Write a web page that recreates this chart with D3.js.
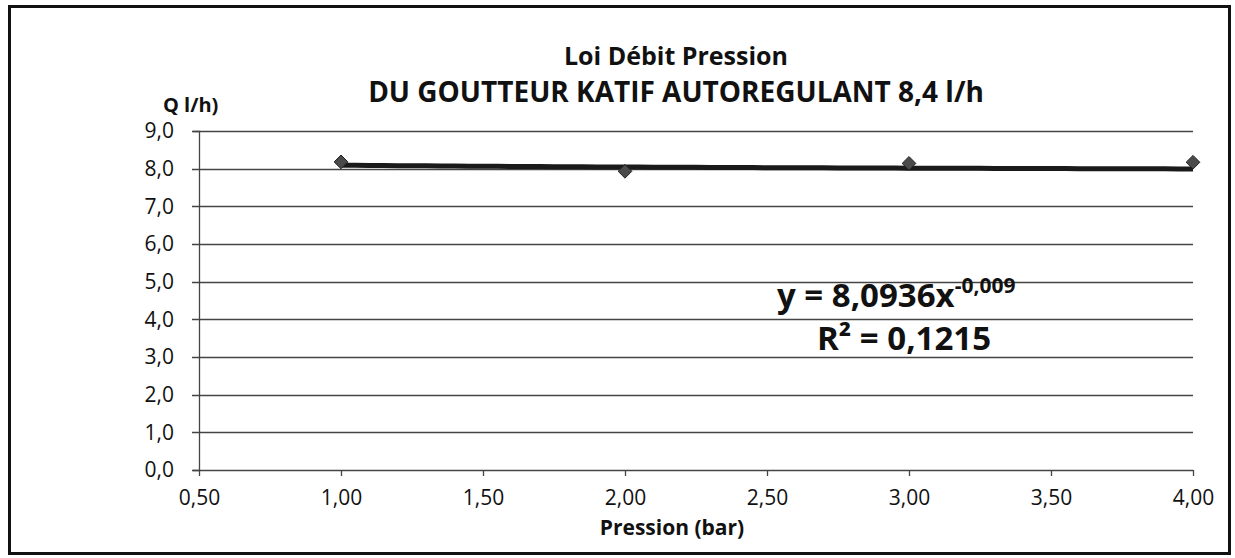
<!DOCTYPE html>
<html>
<head>
<meta charset="utf-8">
<script src="https://cdn.jsdelivr.net/npm/d3@7"></script>
<style>
  body { margin: 0; background: #fff; }
  svg text { font-family: "Open Sans", sans-serif; fill: #111; }
</style>
</head>
<body>
<div class="container"></div>
<script>
(function(){
  // data
  const pressures = [1.00, 2.00, 3.00, 4.00];
  const debits = [8.18, 7.93, 8.14, 8.17];
  const xTicks = [0.5, 1.0, 1.5, 2.0, 2.5, 3.0, 3.5, 4.0];
  const yTicks = [0, 1, 2, 3, 4, 5, 6, 7, 8, 9];
  const trendCoef = [8.0936, -0.009];
  const titleLines = ['Loi Débit Pression', 'DU GOUTTEUR KATIF AUTOREGULANT 8,4 l/h'];

  const config = {w: 1235, h: 558, m: {l: 199, r: 42, t: 131, b: 88}};

  const svg = d3.select('.container').append('svg')
    .attr('width', config.w)
    .attr('height', config.h);

  // outer frame
  svg.append('rect')
    .attr('x', 9.5).attr('y', 6.5)
    .attr('width', 1220).attr('height', 547)
    .attr('fill', 'none')
    .attr('stroke', '#111')
    .attr('stroke-width', 3);

  const x = d3.scaleLinear()
    .domain([0.5, 4])
    .range([config.m.l, config.w - config.m.r]);

  const y = d3.scaleLinear()
    .domain([0, 9])
    .range([config.h - config.m.b, config.m.t]);

  const fmt = d => d.toFixed(2).replace('.', ',');
  const fmtY = d => d.toFixed(1).replace('.', ',');

  // gridlines
  svg.append('g')
    .selectAll('line')
    .data(yTicks)
    .enter().append('line')
      .attr('x1', x(0.5) - 7)
      .attr('x2', x(4))
      .attr('y1', d => Math.round(y(d)) + 0.5)
      .attr('y2', d => Math.round(y(d)) + 0.5)
      .attr('stroke', '#444')
      .attr('stroke-width', 1.3);

  // y axis
  const yAxis = svg.append('g')
    .attr('transform', `translate(${x(0.5)},0)`)
    .call(d3.axisLeft(y).tickValues(yTicks).tickFormat(fmtY).tickSize(6).tickPadding(19));
  yAxis.select('.domain').attr('stroke', '#444').attr('stroke-width', 1.3);
  yAxis.selectAll('.tick line').remove();
  yAxis.selectAll('text')
    .attr('font-size', 21)
    .attr('font-family', '"Open Sans", sans-serif')
    .attr('fill', '#111');

  // x axis
  const xAxis = svg.append('g')
    .attr('transform', `translate(0,${y(0)})`)
    .call(d3.axisBottom(x).tickValues(xTicks).tickFormat(fmt).tickSize(6).tickPadding(14));
  xAxis.select('.domain').remove();
  xAxis.selectAll('.tick line').attr('stroke', '#444').attr('stroke-width', 1.3);
  xAxis.selectAll('text')
    .attr('font-size', 21)
    .attr('font-family', '"Open Sans", sans-serif')
    .attr('fill', '#111');

  // power trendline from the chart's own equation
  const trend = d3.range(pressures[0], pressures[pressures.length - 1] + 0.001, 0.05)
    .map(p => [p, trendCoef[0] * Math.pow(p, trendCoef[1])]);

  svg.append('path')
    .datum(trend)
    .attr('fill', 'none')
    .attr('stroke', '#1a1a1a')
    .attr('stroke-width', 5)
    .attr('d', d3.line().x(d => x(d[0])).y(d => y(d[1])));

  // markers
  svg.append('g')
    .selectAll('path')
    .data(pressures.map((p, i) => [p, debits[i]]))
    .enter().append('path')
      .attr('transform', d => `translate(${x(d[0])},${y(d[1])})`)
      .attr('d', d3.symbol().type(d3.symbolDiamond2).size(120))
      .attr('fill', '#4a4a4a')
      .attr('stroke', '#222')
      .attr('stroke-width', 1);

  // titles
  svg.selectAll('text.title')
    .data(titleLines)
    .enter().append('text')
      .attr('class', 'title')
      .attr('x', 676)
      .attr('y', (d, i) => i ? 102 : 65)
      .attr('text-anchor', 'middle')
      .attr('font-size', (d, i) => i ? 28 : 25)
      .attr('font-weight', 'bold')
      .text(d => d);

  svg.append('text')
    .attr('x', 163)
    .attr('y', 112)
    .attr('font-size', 20)
    .attr('font-weight', 'bold')
    .text('Q l/h)');

  svg.append('text')
    .attr('x', 672)
    .attr('y', 535)
    .attr('text-anchor', 'middle')
    .attr('font-size', 21)
    .attr('font-weight', 'bold')
    .text('Pression (bar)');

  // equation
  const eq = svg.append('text')
    .attr('x', 777)
    .attr('y', 307)
    .attr('font-size', 33)
    .attr('font-weight', 'bold');
  eq.append('tspan').text('y = 8,0936x');
  eq.append('tspan')
    .attr('dy', -14)
    .attr('font-size', 21)
    .text('-0,009');

  svg.append('text')
    .attr('x', 904)
    .attr('y', 350)
    .attr('text-anchor', 'middle')
    .attr('font-size', 33)
    .attr('font-weight', 'bold')
    .text('R² = 0,1215');
})();
</script>
</body>
</html>
